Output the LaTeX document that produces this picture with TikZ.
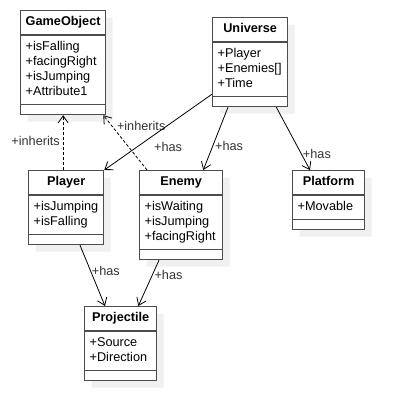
\documentclass[tikz,border=0pt]{standalone}
\usepackage{fontspec}
\setmainfont{Liberation Sans}
\usetikzlibrary{shapes.multipart,shadows,arrows.meta}

\begin{document}
\begin{tikzpicture}[x=1pt,y=-1pt,
    % class boxes and relations
    cls/.style={rectangle split, rectangle split parts=3, draw=black!70, line width=1.3pt,
        fill=white, anchor=north west, rectangle split part align={center,left,left},
        inner xsep=5pt, inner ysep=4pt, font=\fontsize{12.7}{15}\selectfont,
        drop shadow={shadow xshift=7pt, shadow yshift=-7pt, fill=black!6, opacity=1, draw=none}},
    rel/.style={draw=black, line width=0.8pt, -{Straight Barb[length=7pt,width=10pt]}},
    inh/.style={rel, dash pattern=on 3pt off 2pt},
    lbl/.style={font=\fontsize{12.7}{15}\selectfont, text=black!80, inner sep=1pt}]

    \useasboundingbox (0,0) rectangle (404,418);

    % Classes
    \node[cls, minimum width=85pt] (gameobject) at (20,10) {\textbf{GameObject}\strut
        \nodepart{two} \begin{tabular}{@{}l@{}} +isFalling\\ +facingRight\\ +isJumping\\ +Attribute1 \end{tabular}
        \nodepart{three} \rule{0pt}{1pt}};
    \node[cls, minimum width=75pt] (universe) at (212,17) {\textbf{Universe}\strut
        \nodepart{two} \begin{tabular}{@{}l@{}} +Player\\ +Enemies[]\\ +Time \end{tabular}
        \nodepart{three} \rule{0pt}{1pt}};
    \node[cls, minimum width=75pt] (player) at (28,170) {\textbf{Player}\strut
        \nodepart{two} \begin{tabular}{@{}l@{}} +isJumping\\ +isFalling \end{tabular}
        \nodepart{three} \rule{0pt}{1pt}};
    \node[cls, minimum width=83pt] (enemy) at (139,170) {\textbf{Enemy}\strut
        \nodepart{two} \begin{tabular}{@{}l@{}} +isWaiting\\ +isJumping\\ +facingRight \end{tabular}
        \nodepart{three} \rule{0pt}{1pt}};
    \node[cls, minimum width=72pt] (platform) at (292,170) {\textbf{Platform}\strut
        \nodepart{two} \begin{tabular}{@{}l@{}} +Movable \end{tabular}
        \nodepart{three} \rule{0pt}{1pt}};
    \node[cls, minimum width=72pt] (projectile) at (84,306) {\textbf{Projectile}\strut
        \nodepart{two} \begin{tabular}{@{}l@{}} +Source\\ +Direction \end{tabular}
        \nodepart{three} \rule{0pt}{1pt}};

    % Relations
    \draw[inh] (player.north -| gameobject.south) -- node[lbl, pos=0.53, left=2pt] {+inherits} (gameobject.south);
    \draw[inh] ([xshift=8pt]enemy.north west) -- node[lbl, pos=0.81, right=4pt] {+inherits} ([xshift=-3pt]gameobject.south east);
    \draw[rel] ([yshift=13pt]universe.south west) -- node[lbl, pos=0.69, right=15pt] {+has} (player.north east);
    \draw[rel] ([xshift=16pt]universe.south west) -- node[lbl, pos=0.62, right=1pt] {+has} ([xshift=-20pt]enemy.north east);
    \draw[rel] ([xshift=-12pt]universe.south east) -- node[lbl, pos=0.75, right=0pt] {+has} ([xshift=18pt]platform.north west);
    \draw[rel] ([xshift=52pt]player.south west) -- node[lbl, pos=0.42, right=0pt] {+has} ([xshift=21pt]projectile.north west);
    \draw[rel] ([xshift=20pt]enemy.south west) -- node[lbl, pos=0.33, right=1pt] {+has} ([xshift=-19pt]projectile.north east);
\end{tikzpicture}
\end{document}
